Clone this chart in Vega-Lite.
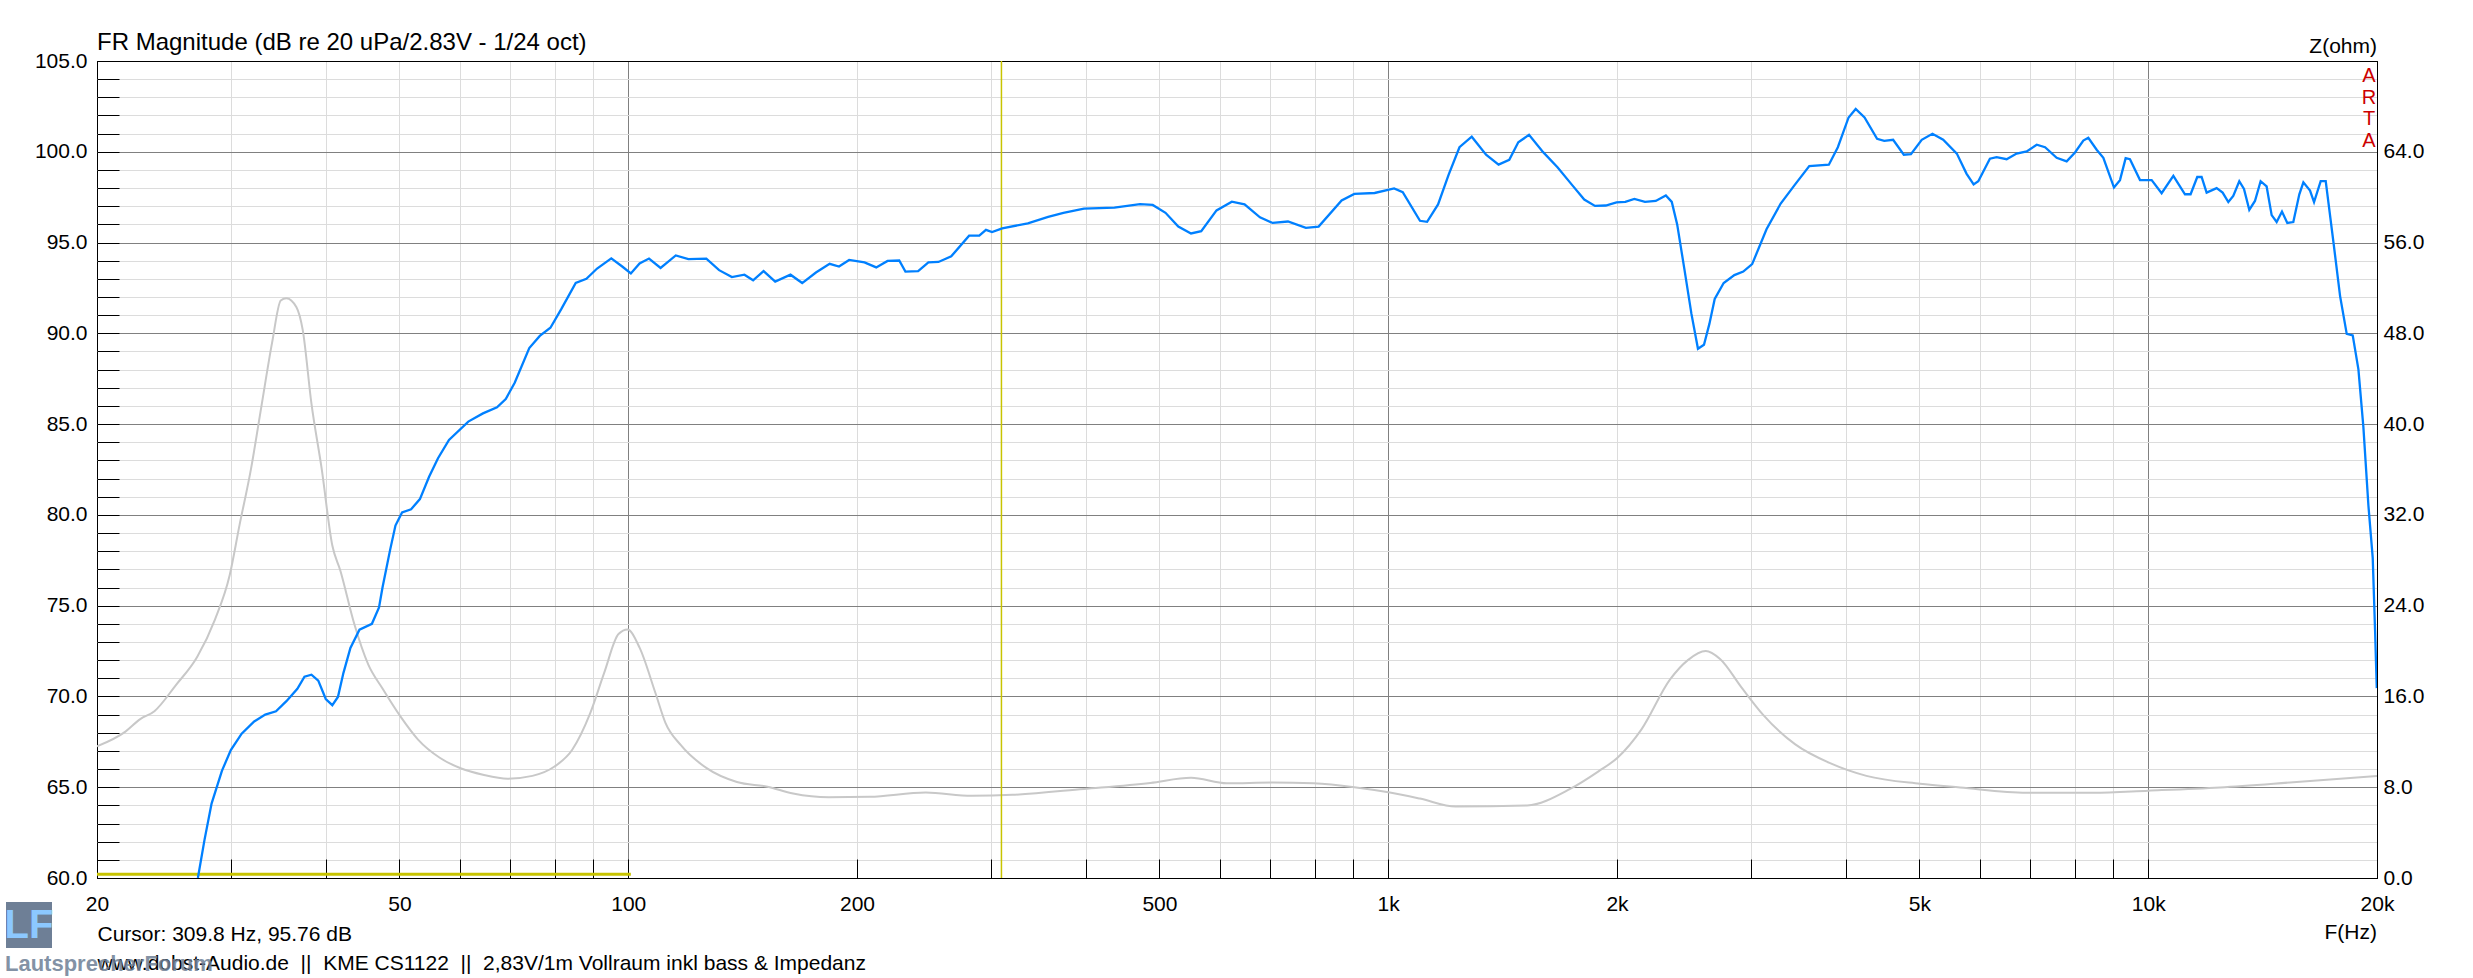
{
  "$schema": "https://vega.github.io/schema/vega-lite/v6.json",
  "width": 2280,
  "height": 817,
  "autosize": {"type": "none"},
  "padding": {"left": 97, "top": 61, "right": 96, "bottom": 100},
  "background": "#ffffff",
  "title": {
    "text": "FR Magnitude (dB re 20 uPa/2.83V - 1/24 oct)",
    "anchor": "start",
    "frame": "group",
    "fontSize": 24,
    "fontWeight": "normal",
    "color": "#000000",
    "offset": -19
  },
  "datasets": {
    "fr": [
      {"f": 27.15, "db": 60.0}, {"f": 27.7, "db": 62.1}, {"f": 28.3, "db": 64.1}, {"f": 29.2, "db": 65.9},
      {"f": 30.0, "db": 67.05}, {"f": 31.0, "db": 67.95}, {"f": 32.2, "db": 68.62}, {"f": 33.3, "db": 69.0},
      {"f": 34.4, "db": 69.18}, {"f": 35.5, "db": 69.74}, {"f": 36.7, "db": 70.42}, {"f": 37.5, "db": 71.09},
      {"f": 38.3, "db": 71.2}, {"f": 39.1, "db": 70.87}, {"f": 40.0, "db": 69.86}, {"f": 40.8, "db": 69.52},
      {"f": 41.5, "db": 69.97}, {"f": 42.2, "db": 71.3}, {"f": 43.1, "db": 72.67}, {"f": 44.3, "db": 73.68},
      {"f": 46.0, "db": 74.0}, {"f": 47.0, "db": 74.9}, {"f": 47.5, "db": 76.0}, {"f": 48.6, "db": 78.06},
      {"f": 49.4, "db": 79.41}, {"f": 50.4, "db": 80.13}, {"f": 51.8, "db": 80.31}, {"f": 53.2, "db": 80.87},
      {"f": 54.7, "db": 82.1}, {"f": 56.2, "db": 83.12}, {"f": 58.1, "db": 84.13}, {"f": 61.6, "db": 85.14},
      {"f": 64.4, "db": 85.59}, {"f": 67.2, "db": 85.93}, {"f": 69.0, "db": 86.38}, {"f": 70.9, "db": 87.28},
      {"f": 74.1, "db": 89.19}, {"f": 76.5, "db": 89.86}, {"f": 79.0, "db": 90.31}, {"f": 81.6, "db": 91.32},
      {"f": 85.3, "db": 92.78}, {"f": 88.1, "db": 93.0}, {"f": 91.0, "db": 93.57}, {"f": 95.0, "db": 94.13},
      {"f": 98.2, "db": 93.68}, {"f": 100.8, "db": 93.3}, {"f": 103.5, "db": 93.85}, {"f": 106.5, "db": 94.12},
      {"f": 110.3, "db": 93.6}, {"f": 115.5, "db": 94.29}, {"f": 120.0, "db": 94.09}, {"f": 126.7, "db": 94.11},
      {"f": 131.7, "db": 93.48}, {"f": 136.9, "db": 93.1}, {"f": 142.2, "db": 93.23}, {"f": 146.0, "db": 92.92},
      {"f": 150.7, "db": 93.43}, {"f": 156.1, "db": 92.85}, {"f": 163.5, "db": 93.23}, {"f": 169.4, "db": 92.77},
      {"f": 176.6, "db": 93.35}, {"f": 184.1, "db": 93.83}, {"f": 189.4, "db": 93.68}, {"f": 195.3, "db": 94.04},
      {"f": 204.6, "db": 93.91}, {"f": 212.0, "db": 93.63}, {"f": 219.4, "db": 93.99}, {"f": 227.3, "db": 94.01},
      {"f": 231.6, "db": 93.4}, {"f": 240.7, "db": 93.43}, {"f": 248.3, "db": 93.91}, {"f": 256.0, "db": 93.93},
      {"f": 266.1, "db": 94.24}, {"f": 280.9, "db": 95.38}, {"f": 289.7, "db": 95.38}, {"f": 295.6, "db": 95.7},
      {"f": 301.1, "db": 95.58}, {"f": 310.5, "db": 95.78}, {"f": 335.6, "db": 96.06}, {"f": 356.9, "db": 96.41},
      {"f": 373.8, "db": 96.64}, {"f": 397.8, "db": 96.87}, {"f": 436.3, "db": 96.92}, {"f": 471.4, "db": 97.12},
      {"f": 489.9, "db": 97.07}, {"f": 509.3, "db": 96.64}, {"f": 529.4, "db": 95.88}, {"f": 550.2, "db": 95.5},
      {"f": 567.5, "db": 95.63}, {"f": 594.4, "db": 96.77}, {"f": 622.6, "db": 97.25}, {"f": 647.1, "db": 97.1},
      {"f": 678.0, "db": 96.39}, {"f": 704.6, "db": 96.08}, {"f": 738.1, "db": 96.16}, {"f": 779.2, "db": 95.81},
      {"f": 809.9, "db": 95.88}, {"f": 868.3, "db": 97.32}, {"f": 902.4, "db": 97.68}, {"f": 959.8, "db": 97.73},
      {"f": 1018, "db": 97.98}, {"f": 1045, "db": 97.78}, {"f": 1101, "db": 96.2}, {"f": 1125, "db": 96.14},
      {"f": 1163, "db": 97.1}, {"f": 1201, "db": 98.74}, {"f": 1241, "db": 100.25}, {"f": 1288, "db": 100.83},
      {"f": 1345, "db": 99.84}, {"f": 1397, "db": 99.29}, {"f": 1443, "db": 99.56}, {"f": 1483, "db": 100.52},
      {"f": 1532, "db": 100.93}, {"f": 1599, "db": 99.98}, {"f": 1670, "db": 99.15}, {"f": 1744, "db": 98.19},
      {"f": 1811, "db": 97.37}, {"f": 1871, "db": 97.02}, {"f": 1933, "db": 97.04}, {"f": 1997, "db": 97.21},
      {"f": 2051, "db": 97.24}, {"f": 2108, "db": 97.4}, {"f": 2177, "db": 97.24}, {"f": 2249, "db": 97.29},
      {"f": 2319, "db": 97.59}, {"f": 2361, "db": 97.24}, {"f": 2400, "db": 96.0}, {"f": 2453, "db": 93.54},
      {"f": 2506, "db": 91.07}, {"f": 2556, "db": 89.15}, {"f": 2603, "db": 89.37}, {"f": 2646, "db": 90.52},
      {"f": 2689, "db": 91.89}, {"f": 2763, "db": 92.77}, {"f": 2854, "db": 93.21}, {"f": 2932, "db": 93.4},
      {"f": 3012, "db": 93.81}, {"f": 3146, "db": 95.73}, {"f": 3284, "db": 97.15}, {"f": 3429, "db": 98.19},
      {"f": 3581, "db": 99.21}, {"f": 3800, "db": 99.29}, {"f": 3905, "db": 100.25}, {"f": 4034, "db": 101.89},
      {"f": 4122, "db": 102.36}, {"f": 4234, "db": 101.89}, {"f": 4398, "db": 100.71}, {"f": 4494, "db": 100.6},
      {"f": 4617, "db": 100.66}, {"f": 4769, "db": 99.84}, {"f": 4873, "db": 99.87}, {"f": 5035, "db": 100.66},
      {"f": 5201, "db": 100.99}, {"f": 5373, "db": 100.66}, {"f": 5600, "db": 99.9}, {"f": 5766, "db": 98.8},
      {"f": 5892, "db": 98.2}, {"f": 5976, "db": 98.38}, {"f": 6190, "db": 99.62}, {"f": 6317, "db": 99.7},
      {"f": 6512, "db": 99.59}, {"f": 6712, "db": 99.9}, {"f": 6920, "db": 100.02}, {"f": 7133, "db": 100.39},
      {"f": 7316, "db": 100.25}, {"f": 7578, "db": 99.67}, {"f": 7811, "db": 99.47}, {"f": 8011, "db": 99.96},
      {"f": 8215, "db": 100.62}, {"f": 8340, "db": 100.77}, {"f": 8554, "db": 100.11}, {"f": 8729, "db": 99.67},
      {"f": 9015, "db": 98.03}, {"f": 9180, "db": 98.44}, {"f": 9339, "db": 99.65}, {"f": 9462, "db": 99.59},
      {"f": 9754, "db": 98.44}, {"f": 10105, "db": 98.44}, {"f": 10415, "db": 97.72}, {"f": 10791, "db": 98.67},
      {"f": 11178, "db": 97.66}, {"f": 11370, "db": 97.66}, {"f": 11602, "db": 98.61}, {"f": 11756, "db": 98.61},
      {"f": 11936, "db": 97.75}, {"f": 12303, "db": 98.0}, {"f": 12529, "db": 97.75}, {"f": 12747, "db": 97.23},
      {"f": 12939, "db": 97.57}, {"f": 13177, "db": 98.38}, {"f": 13366, "db": 97.95}, {"f": 13583, "db": 96.8},
      {"f": 13818, "db": 97.29}, {"f": 14057, "db": 98.38}, {"f": 14315, "db": 98.09}, {"f": 14535, "db": 96.51},
      {"f": 14757, "db": 96.13}, {"f": 14997, "db": 96.71}, {"f": 15241, "db": 96.08}, {"f": 15521, "db": 96.13},
      {"f": 15806, "db": 97.66}, {"f": 16001, "db": 98.32}, {"f": 16327, "db": 97.86}, {"f": 16527, "db": 97.23},
      {"f": 16864, "db": 98.38}, {"f": 17122, "db": 98.38}, {"f": 17522, "db": 95.07}, {"f": 17884, "db": 92.05},
      {"f": 18247, "db": 89.97}, {"f": 18582, "db": 89.89}, {"f": 18905, "db": 88.02}, {"f": 19191, "db": 84.85},
      {"f": 19485, "db": 80.53}, {"f": 19742, "db": 77.65}, {"f": 19884, "db": 73.62}, {"f": 19985, "db": 70.46}
    ],
    "z": [
      {"f": 20, "ohm": 11.6}, {"f": 21.8, "ohm": 12.9}, {"f": 22.8, "ohm": 14.0}, {"f": 23.8, "ohm": 14.7},
      {"f": 25.4, "ohm": 17.0}, {"f": 27.1, "ohm": 19.5}, {"f": 28.6, "ohm": 22.8}, {"f": 29.9, "ohm": 26.7},
      {"f": 30.8, "ohm": 31.1}, {"f": 31.9, "ohm": 36.1}, {"f": 32.9, "ohm": 41.5}, {"f": 34.0, "ohm": 47.2},
      {"f": 34.9, "ohm": 50.9}, {"f": 35.5, "ohm": 51.1}, {"f": 36.6, "ohm": 50.3}, {"f": 37.3, "ohm": 48.3},
      {"f": 38.3, "ohm": 41.8}, {"f": 39.5, "ohm": 36.1}, {"f": 40.8, "ohm": 29.3}, {"f": 41.8, "ohm": 27.1},
      {"f": 43.6, "ohm": 22.4}, {"f": 45.5, "ohm": 18.8}, {"f": 47.5, "ohm": 16.7}, {"f": 50.2, "ohm": 14.2},
      {"f": 52.9, "ohm": 12.2}, {"f": 56.5, "ohm": 10.6}, {"f": 60.3, "ohm": 9.65}, {"f": 64.4, "ohm": 9.1},
      {"f": 69.4, "ohm": 8.75}, {"f": 74.8, "ohm": 9.0}, {"f": 79.9, "ohm": 9.8}, {"f": 84.4, "ohm": 11.3},
      {"f": 89.1, "ohm": 14.5}, {"f": 93.0, "ohm": 18.1}, {"f": 97.1, "ohm": 21.5}, {"f": 99.8, "ohm": 21.9},
      {"f": 103.5, "ohm": 20.3}, {"f": 108.6, "ohm": 16.3}, {"f": 111.9, "ohm": 13.7}, {"f": 117.3, "ohm": 11.7},
      {"f": 126.7, "ohm": 9.7}, {"f": 139.0, "ohm": 8.46}, {"f": 152.5, "ohm": 8.05}, {"f": 164.8, "ohm": 7.45},
      {"f": 183.6, "ohm": 7.12}, {"f": 207.8, "ohm": 7.16}, {"f": 246.3, "ohm": 7.53}, {"f": 283.1, "ohm": 7.25},
      {"f": 320.3, "ohm": 7.33}, {"f": 397.8, "ohm": 7.85}, {"f": 486.3, "ohm": 8.38}, {"f": 550.2, "ohm": 8.83},
      {"f": 613.2, "ohm": 8.34}, {"f": 704.6, "ohm": 8.42}, {"f": 797.4, "ohm": 8.34}, {"f": 902.4, "ohm": 8.0},
      {"f": 1005, "ohm": 7.53}, {"f": 1101, "ohm": 7.0}, {"f": 1227, "ohm": 6.3}, {"f": 1523, "ohm": 6.4},
      {"f": 1735, "ohm": 7.85}, {"f": 1891, "ohm": 9.4}, {"f": 2003, "ohm": 10.6}, {"f": 2154, "ohm": 13.1},
      {"f": 2349, "ohm": 17.5}, {"f": 2479, "ohm": 19.2}, {"f": 2617, "ohm": 20.0}, {"f": 2733, "ohm": 19.3},
      {"f": 2916, "ohm": 16.8}, {"f": 3112, "ohm": 14.4}, {"f": 3429, "ohm": 11.8}, {"f": 3821, "ohm": 10.1},
      {"f": 4258, "ohm": 9.0}, {"f": 5009, "ohm": 8.3}, {"f": 5655, "ohm": 7.98}, {"f": 6920, "ohm": 7.52},
      {"f": 8468, "ohm": 7.52}, {"f": 10000, "ohm": 7.7}, {"f": 12430, "ohm": 7.98}, {"f": 15521, "ohm": 8.44},
      {"f": 20000, "ohm": 9.0}
    ],
    "cursor": [{"f": 309.8}],
    "marker": [{"f": 20, "db": 60.2}, {"f": 100.8, "db": 60.2}],
    "notes": [
      {"label": "ARTA"},
      {"label": "Z(ohm)"},
      {"label": "F(Hz)"},
      {"label": "LF"},
      {"label": "LautsprecherForum"}
    ]
  },
  "layer": [
    {
      "data": {"name": "z"},
      "mark": {"type": "line", "color": "#c8c8c8", "strokeWidth": 2, "interpolate": "monotone", "clip": true},
      "encoding": {
        "x": {
          "field": "f",
          "type": "quantitative",
          "scale": {"type": "log", "domain": [20, 20000], "nice": false, "zero": false},
          "axis": {
            "title": ["Cursor: 309.8 Hz, 95.76 dB", "www.dobst-Audio.de\u00a0\u00a0||\u00a0\u00a0KME CS1122\u00a0\u00a0||\u00a0\u00a02,83V/1m Vollraum inkl bass & Impedanz"],
            "titleAnchor": "start",
            "titleAlign": "left",
            "titleBaseline": "top",
            "titleFontSize": 21,
            "titleFontWeight": "normal",
            "titleColor": "#000000",
            "titleLineHeight": 29,
            "titlePadding": 9,
            "orient": "bottom",
            "values": [20, 30, 40, 50, 60, 70, 80, 90, 100, 200, 300, 400, 500, 600, 700, 800, 900, 1000, 2000, 3000, 4000, 5000, 6000, 7000, 8000, 9000, 10000, 20000],
            "labelExpr": "indexof([20, 50, 100, 200, 500], datum.value) >= 0 ? '' + datum.value : (indexof([1000, 2000, 5000, 10000, 20000], datum.value) >= 0 ? (datum.value / 1000) + 'k' : '')",
            "labelOverlap": false,
            "labelFlush": false,
            "labelFontSize": 21,
            "labelColor": "#000000",
            "labelPadding": 34,
            "labelBaseline": "top",
            "domain": false,
            "ticks": true,
            "tickSize": -19,
            "tickColor": "#000000",
            "tickWidth": 1,
            "grid": true,
            "gridWidth": 1,
            "gridColor": {
              "condition": [
                {"test": "datum.value == 20 || datum.value == 20000", "value": "#000000"},
                {"test": "datum.value == 100 || datum.value == 1000 || datum.value == 10000", "value": "#808080"}
              ],
              "value": "#dcdcdc"
            }
          }
        },
        "y": {
          "field": "ohm",
          "type": "quantitative",
          "scale": {"domain": [0, 72], "nice": false, "zero": false},
          "axis": {
            "orient": "right",
            "title": null,
            "values": [0, 8, 16, 24, 32, 40, 48, 56, 64],
            "format": ".1f",
            "labelFontSize": 21,
            "labelColor": "#000000",
            "labelPadding": 6,
            "ticks": false,
            "grid": false,
            "domain": true,
            "domainColor": "#000000"
          }
        }
      }
    },
    {
      "encoding": {
        "x": {"field": "f", "type": "quantitative", "scale": {"type": "log", "domain": [20, 20000], "nice": false, "zero": false}},
        "y": {
          "field": "db",
          "type": "quantitative",
          "scale": {"domain": [60, 105], "nice": false, "zero": false},
          "axis": {
            "orient": "left",
            "title": null,
            "values": [60, 61, 62, 63, 64, 65, 66, 67, 68, 69, 70, 71, 72, 73, 74, 75, 76, 77, 78, 79, 80, 81, 82, 83, 84, 85, 86, 87, 88, 89, 90, 91, 92, 93, 94, 95, 96, 97, 98, 99, 100, 101, 102, 103, 104, 105],
            "labelExpr": "datum.value % 5 == 0 ? format(datum.value, '.1f') : ''",
            "labelFontSize": 21,
            "labelColor": "#000000",
            "labelPadding": 32,
            "domain": false,
            "ticks": true,
            "tickSize": -22,
            "tickColor": "#000000",
            "tickWidth": 1,
            "grid": true,
            "gridWidth": 1,
            "gridColor": {
              "condition": [
                {"test": "datum.value == 60 || datum.value == 105", "value": "#000000"},
                {"test": "datum.value % 5 == 0", "value": "#808080"}
              ],
              "value": "#dcdcdc"
            }
          }
        }
      },
      "layer": [
        {
          "data": {"name": "marker"},
          "mark": {"type": "line", "color": "#c8c400", "strokeWidth": 3}
        },
        {
          "data": {"name": "cursor"},
          "mark": {"type": "rule", "color": "#c8c400", "strokeWidth": 1.5},
          "encoding": {"y": null}
        },
        {
          "data": {"name": "fr"},
          "mark": {"type": "line", "color": "#0080ff", "strokeWidth": 2.3, "clip": true}
        }
      ]
    },
    {
      "data": {"name": "notes"},
      "transform": [{"filter": "datum.label == 'ARTA'"}],
      "mark": {"type": "text", "color": "#cc0000", "fontSize": 20, "align": "center", "baseline": "top", "dx": -8, "dy": 5, "lineHeight": 21.7},
      "encoding": {
        "x": {"datum": 20000, "type": "quantitative", "scale": {"type": "log", "domain": [20, 20000], "nice": false, "zero": false}},
        "y": {"datum": 105, "type": "quantitative", "scale": {"domain": [60, 105], "nice": false, "zero": false}, "axis": null},
        "text": {"value": ["A", "R", "T", "A"]}
      }
    },
    {
      "data": {"name": "notes"},
      "transform": [{"filter": "datum.label == 'Z(ohm)'"}],
      "mark": {"type": "text", "color": "#000000", "fontSize": 21, "align": "right", "baseline": "alphabetic", "dy": -8},
      "encoding": {
        "x": {"datum": 20000, "type": "quantitative", "scale": {"type": "log", "domain": [20, 20000], "nice": false, "zero": false}},
        "y": {"datum": 105, "type": "quantitative", "scale": {"domain": [60, 105], "nice": false, "zero": false}, "axis": null},
        "text": {"field": "label"}
      }
    },
    {
      "data": {"name": "notes"},
      "transform": [{"filter": "datum.label == 'F(Hz)'"}],
      "mark": {"type": "text", "color": "#000000", "fontSize": 21, "align": "right", "baseline": "alphabetic", "dy": 61},
      "encoding": {
        "x": {"datum": 20000, "type": "quantitative", "scale": {"type": "log", "domain": [20, 20000], "nice": false, "zero": false}},
        "y": {"datum": 60, "type": "quantitative", "scale": {"domain": [60, 105], "nice": false, "zero": false}, "axis": null},
        "text": {"field": "label"}
      }
    },
    {
      "data": {"name": "notes"},
      "transform": [{"filter": "datum.label == 'LF'"}],
      "mark": {"type": "point", "shape": "square", "filled": true, "color": "#6e7f96", "size": 2116, "opacity": 1, "xOffset": -68, "yOffset": 47},
      "encoding": {
        "x": {"datum": 20, "type": "quantitative", "scale": {"type": "log", "domain": [20, 20000], "nice": false, "zero": false}},
        "y": {"datum": 60, "type": "quantitative", "scale": {"domain": [60, 105], "nice": false, "zero": false}, "axis": null}
      }
    },
    {
      "data": {"name": "notes"},
      "transform": [{"filter": "datum.label == 'LF'"}],
      "mark": {"type": "text", "color": "#8cc8ff", "fontSize": 40, "fontWeight": "bold", "align": "center", "baseline": "middle", "dx": -68, "dy": 48},
      "encoding": {
        "x": {"datum": 20, "type": "quantitative", "scale": {"type": "log", "domain": [20, 20000], "nice": false, "zero": false}},
        "y": {"datum": 60, "type": "quantitative", "scale": {"domain": [60, 105], "nice": false, "zero": false}, "axis": null},
        "text": {"field": "label"}
      }
    },
    {
      "data": {"name": "notes"},
      "transform": [{"filter": "datum.label == 'LautsprecherForum'"}],
      "mark": {"type": "text", "color": "#6e7f96", "opacity": 0.85, "fontSize": 22, "fontWeight": "bold", "align": "left", "baseline": "alphabetic", "dx": -92, "dy": 93},
      "encoding": {
        "x": {"datum": 20, "type": "quantitative", "scale": {"type": "log", "domain": [20, 20000], "nice": false, "zero": false}},
        "y": {"datum": 60, "type": "quantitative", "scale": {"domain": [60, 105], "nice": false, "zero": false}, "axis": null},
        "text": {"field": "label"}
      }
    }
  ],
  "resolve": {"scale": {"y": "independent"}},
  "config": {
    "font": "Liberation Sans",
    "view": {"stroke": "#000000", "strokeWidth": 1},
    "axis": {"labelFont": "Liberation Sans", "titleFont": "Liberation Sans"},
    "text": {"font": "Liberation Sans"}
  }
}
